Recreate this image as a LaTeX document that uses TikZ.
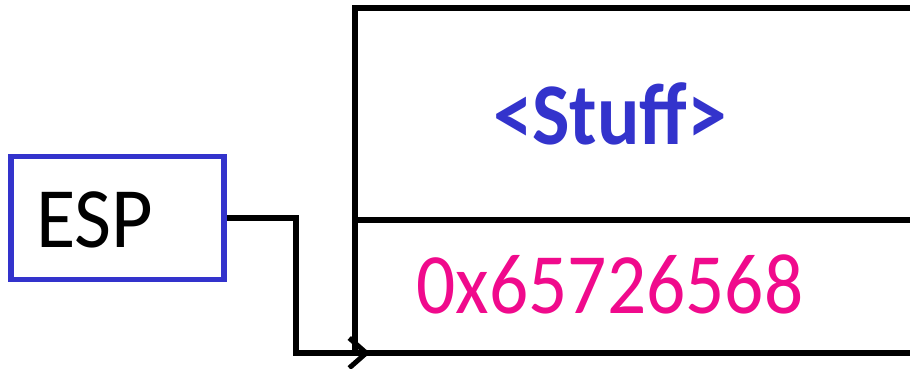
\documentclass[tikz,border=0pt]{standalone}
\usepackage{fontspec}
\setmainfont{Carlito}
\usetikzlibrary{arrows.meta}
\definecolor{espblue}{RGB}{51,51,204}
\definecolor{addrpink}{RGB}{240,10,140}
\tikzset{
  wall/.style={line width=5.5pt, black},
  bigtext/.style={inner sep=0pt, font=\fontsize{86}{86}\selectfont, xscale=0.9, transform shape},
  link/.style={line width=5.5pt, black, -{Straight Barb[length=17pt,width=30pt,line width=5pt]}}
}
\begin{document}
\begin{tikzpicture}[x=1pt,y=-1pt]
\useasboundingbox (0,0) rectangle (910,368);
% stack cells
\draw[wall] (930,8) -- (355,8) -- (355,353) -- (930,353);
\draw[wall] (355,220) -- (930,220);
\coordinate (slot) at (370,353);
\node[bigtext, anchor=base, text=espblue, font=\fontsize{88}{88}\selectfont\bfseries] (stuff) at (610,144) {<Stuff>};
\node[bigtext, anchor=base, text=addrpink] (addr) at (610,313) {0x65726568};
% ESP register
\node[draw=espblue, line width=5.5pt, minimum width=213pt, minimum height=123pt, inner sep=0pt] (esp) at (117.5,218) {};
\node[bigtext, anchor=base west, xscale=1.04] (esplabel) at (36,247) {ESP};
% connector
\coordinate (bend) at (296,220);
\draw[link] (esp.east) -- (esp.east -| bend) |- (slot);
\end{tikzpicture}
\end{document}
